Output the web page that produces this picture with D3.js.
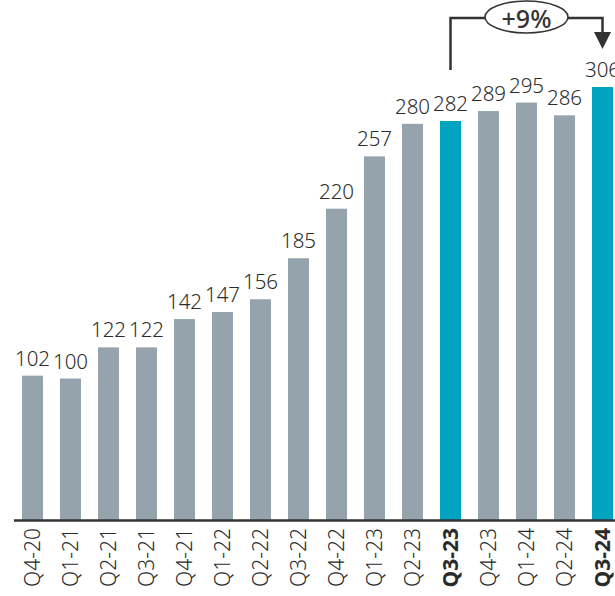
<!DOCTYPE html>
<html>
<head>
<meta charset="utf-8">
<script src="https://cdn.jsdelivr.net/npm/d3@7"></script>
<style>
  body { margin: 0; background: #fff; }
  svg { display: block; font-family: "Noto Sans", sans-serif; }
</style>
</head>
<body>
<div class="wrapper"></div>
<script>
var quarters = ["Q4-20", "Q1-21", "Q2-21", "Q3-21", "Q4-21", "Q1-22", "Q2-22", "Q3-22",
  "Q4-22", "Q1-23", "Q2-23", "Q3-23", "Q4-23", "Q1-24", "Q2-24", "Q3-24"];
var values = [102, 100, 122, 122, 142, 147, 156, 185, 220, 257, 280, 282, 289, 295, 286, 306];
var highlighted = ["Q3-23", "Q3-24"];
var changeLabel = "+9%";

var width = 615, height = 596;
var baseline = 520;

var svg = d3.select(".wrapper").append("svg")
  .attr("width", width)
  .attr("height", height);

var x = d3.scaleBand()
  .domain(quarters)
  .range([13.5, 13.5 + 38 * quarters.length])
  .paddingInner(17 / 38)
  .paddingOuter(17 / 76);

var y = d3.scaleLinear()
  .domain([0, 367.5])
  .range([baseline, 0]);

function isHi(q) { return highlighted.indexOf(q) >= 0; }

// bars
svg.append("g")
  .selectAll("rect")
  .data(quarters)
  .enter().append("rect")
    .attr("x", function(d) { return x(d); })
    .attr("y", function(d, i) { return y(values[i]); })
    .attr("width", x.bandwidth())
    .attr("height", function(d, i) { return baseline - y(values[i]); })
    .attr("fill", function(d) { return isHi(d) ? "#00a4c1" : "#95a3ac"; });

// value labels, lifted when they would collide with the previous one
var labels = svg.append("g")
  .attr("font-size", 20.5)
  .attr("font-weight", 300)
  .attr("fill", "#2b2b2b")
  .attr("text-anchor", "middle");
var prev = null;
quarters.forEach(function(q, i) {
  var t = labels.append("text")
    .attr("x", x(q) + x.bandwidth() / 2)
    .attr("y", y(values[i]) - 10)
    .text(values[i]);
  var b = t.node().getBBox();
  if (prev && b.x < prev.x + prev.width - 2 && b.y + b.height > prev.y + 6) {
    t.attr("y", +t.attr("y") - (b.y + b.height - prev.y) + 6);
    b = t.node().getBBox();
  }
  prev = b;
});

// x axis
var xAxis = svg.append("g")
  .attr("transform", "translate(0," + baseline + ")")
  .call(d3.axisBottom(x).tickSize(0).tickSizeOuter(0));
xAxis.select(".domain")
  .attr("stroke", "#333")
  .attr("stroke-width", 2.5);
xAxis.selectAll("text")
  .attr("font-family", "Noto Sans, sans-serif")
  .attr("font-size", 21)
  .attr("fill", "#2b2b2b")
  .attr("font-weight", function(d) { return isHi(d) ? "bold" : 300; })
  .attr("text-anchor", "end")
  .attr("transform", "rotate(-90)")
  .attr("x", -8)
  .attr("y", 0)
  .attr("dy", "0.36em");

// change bracket
var x1 = x(highlighted[0]) + x.bandwidth() / 2;
var x2 = x(highlighted[1]) + x.bandwidth() / 2;
var topY = 18;
var ann = svg.append("g");
ann.append("path")
  .attr("d", "M" + x1 + "," + 70 + "V" + topY + "H" + x2 + "V" + 34)
  .attr("fill", "none")
  .attr("stroke", "#333")
  .attr("stroke-width", 2.5);
ann.append("path")
  .attr("d", "M" + (x2 - 8.5) + ",32L" + (x2 + 8.5) + ",32L" + x2 + ",49Z")
  .attr("fill", "#333");
var cx = (x1 + x2) / 2;
ann.append("ellipse")
  .attr("cx", cx)
  .attr("cy", topY - 1)
  .attr("rx", 41.5)
  .attr("ry", 16)
  .attr("fill", "#fff")
  .attr("stroke", "#333")
  .attr("stroke-width", 1.5);
ann.append("text")
  .attr("x", cx)
  .attr("y", topY + 0.5)
  .attr("dy", "0.36em")
  .attr("text-anchor", "middle")
  .attr("font-size", 25)
  .attr("font-weight", 500)
  .attr("fill", "#333")
  .text(changeLabel);
</script>
</body>
</html>
